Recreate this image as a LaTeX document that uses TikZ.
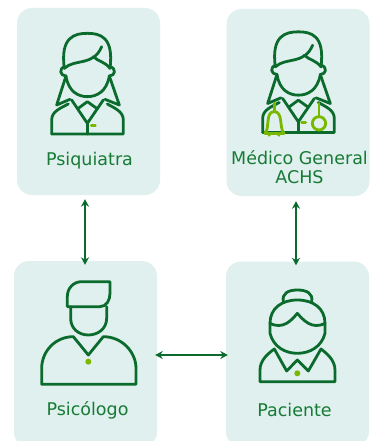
\documentclass[tikz,border=0pt]{standalone}
\usepackage{fontspec}
\setmainfont{DejaVu Sans}
\usepackage{xcolor}
\usetikzlibrary{arrows.meta, positioning, calc}

\definecolor{boxfill}{HTML}{DFF0EE}
\definecolor{darkgreen}{HTML}{0B6B2D}
\definecolor{textgreen}{HTML}{177A35}
\definecolor{limegreen}{HTML}{7AB800}

\tikzset{
    card/.style={fill=boxfill, rounded corners=15pt, minimum width=143pt, inner sep=0pt},
    cardlabel/.style={text=textgreen, font=\fontsize{17.5}{19}\selectfont, align=center, inner sep=0pt},
    icon/.style={draw=darkgreen, line width=2.8pt, line join=round, line cap=round},
    accent/.style={draw=limegreen, line width=2.8pt, line cap=round},
    link/.style={darkgreen, line width=2pt, {Stealth[length=7.5pt,width=8pt]}-{Stealth[length=7.5pt,width=8pt]}},
    zoomed/.style={x=0.3333pt, y=-0.3333pt}
}

% Woman with long hair, same for both top cards
\newcommand{\longhair}{
    \draw[icon] (163,205) .. controls (150,110) and (195,100) .. (232,100)
        .. controls (270,100) and (312,110) .. (300,205);
    \draw[icon] (163,205) .. controls (195,175) and (250,200) .. (275,140);
    \draw[icon] (250,170) .. controls (265,185) and (285,185) .. (300,205);
    \draw[icon] (165,200) .. controls (145,205) and (150,228) .. (168,228)
        .. controls (175,275) and (205,290) .. (232,290)
        .. controls (260,290) and (290,275) .. (298,228)
        .. controls (316,228) and (320,205) .. (300,200);
    \draw[icon] (168,228) -- (140,315) -- (180,298);
    \draw[icon] (298,228) -- (328,315) -- (285,298);
    \draw[icon] (185,300) -- (232,370) -- (280,300);
    \draw[icon] (205,325) -- (232,305) -- (260,325);
    \draw[icon] (232,370) -- (232,402);
    \draw[icon] (125,402) -- (340,402) -- (340,360) .. controls (340,335) and (315,325) .. (292,312);
    \draw[icon] (125,402) -- (125,360) .. controls (125,335) and (150,325) .. (175,312);
}

\begin{document}
\begin{tikzpicture}[x=1pt, y=-1pt]
\useasboundingbox (0,0) rectangle (372,441);
\clip (0,0) rectangle (372,441);

% Cards
\node[card, minimum height=187pt] (psiquiatra) at (88.5,101.5) {};
\node[card, minimum height=187pt] (medico) at (298,102.5) {};
\node[card, minimum height=186pt] (psicologo) at (85.5,354) {};
\node[card, minimum height=185pt] (paciente) at (297.5,354) {};

% Labels
\node[cardlabel] (psiquiatralabel) at (89.5,160.5) {Psiquiatra};
\node[cardlabel] (medicolabel) at (299.5,167) {Médico General\\ACHS};
\node[cardlabel] (psicologolabel) at (87.5,410.5) {Psicólogo};
\node[cardlabel] (pacientelabel) at (294.5,409.5) {Paciente};

% Psiquiatra
\begin{scope}[zoomed, xshift=10pt]
    \longhair
    \draw[accent] (244,376) -- (256,376);
\end{scope}

% Medico General
\begin{scope}[zoomed, xshift=221pt, yshift=1.5pt]
    \longhair
\end{scope}
\begin{scope}[zoomed, xshift=215pt]
    \draw[accent] (178,310) -- (178,335);
    \draw[accent] (150,400) .. controls (165,385) and (150,335) .. (178,335)
        .. controls (205,335) and (192,385) .. (207,400);
    \draw[accent] (150,400) -- (207,400);
    \draw[accent] (162,406) -- (165,400);
    \draw[accent] (192,406) -- (190,400);
    \draw[accent] (312,310) -- (312,350);
    \draw[accent] (312,370) circle (20);
    \draw[accent] (260,368) -- (272,368);
\end{scope}

% Psicologo
\begin{scope}[zoomed, xshift=10pt, yshift=-255pt]
    \draw[icon] (300,80) -- (215,80) .. controls (190,80) and (172,100) .. (172,125) -- (172,155) -- (270,155)
        .. controls (290,155) and (300,135) .. (300,115) -- cycle;
    \draw[icon] (182,155) -- (182,190) .. controls (182,220) and (205,240) .. (235,240)
        .. controls (265,240) and (290,220) .. (290,190) -- (290,155);
    \draw[icon] (95,388) -- (378,388) -- (378,340) .. controls (378,290) and (335,245) .. (280,245)
        -- (235,300) -- (190,245) .. controls (135,245) and (95,290) .. (95,340) -- cycle;
    \fill[limegreen] (235,320) circle (9);
\end{scope}

% Paciente
\begin{scope}[zoomed, xshift=215pt, yshift=-255pt]
    \draw[icon] (205,140) .. controls (200,115) and (220,105) .. (247,105)
        .. controls (275,105) and (295,115) .. (290,140);
    \draw[icon] (165,205) .. controls (165,160) and (200,135) .. (247,135)
        .. controls (295,135) and (330,160) .. (330,205);
    \draw[icon] (165,205) .. controls (205,225) and (230,195) .. (247,175)
        .. controls (265,195) and (290,225) .. (330,205);
    \draw[icon] (165,205) -- (165,235) .. controls (175,275) and (210,295) .. (247,295)
        .. controls (285,295) and (320,275) .. (330,235) -- (330,205);
    \draw[icon] (135,380) -- (360,380) -- (360,345) .. controls (360,315) and (335,295) .. (318,282)
        -- (280,348) -- (247,315) -- (215,348) -- (178,282)
        .. controls (160,295) and (135,315) .. (135,345) -- cycle;
    \fill[limegreen] (247,355) circle (9);
\end{scope}

% Connectors
\draw[link] ([xshift=-3.5pt,yshift=-4pt]psiquiatra.south) -- ([yshift=-4pt,xshift=-0.5pt]psicologo.north);
\draw[link] ([xshift=-2pt,yshift=-5pt]medico.south) -- ([xshift=-1.5pt,yshift=-4pt]paciente.north);
\draw[link] ([yshift=-1pt,xshift=-2pt]psicologo.east) -- ([yshift=-1pt,xshift=2pt]paciente.west);
\end{tikzpicture}
\end{document}
